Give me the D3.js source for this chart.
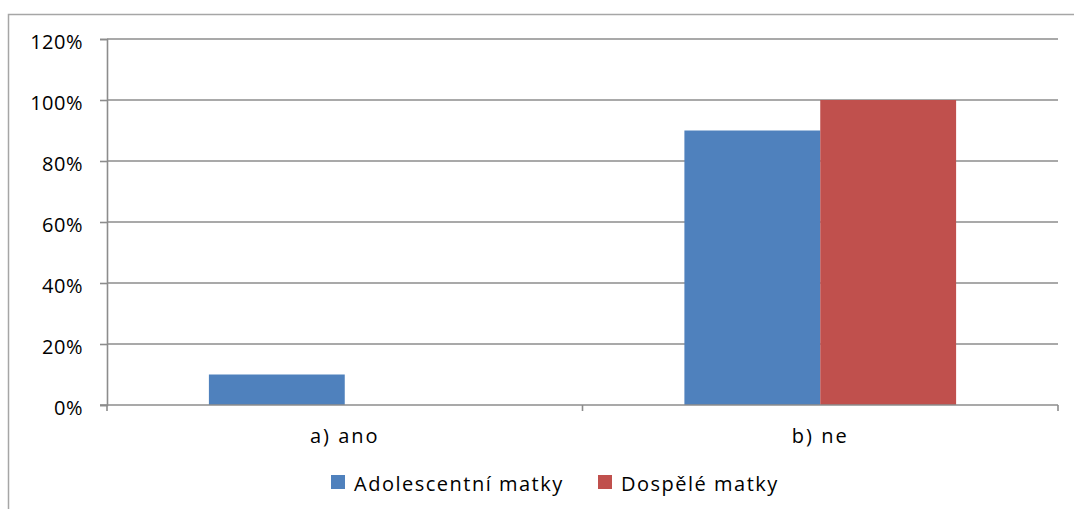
<!DOCTYPE html>
<html>
<head>
<meta charset="utf-8">
<script src="https://cdn.jsdelivr.net/npm/d3@7"></script>
<style>
  body { margin: 0; background: #fff; }
  text { font-family: "Open Sans", sans-serif; fill: #000; }
</style>
</head>
<body>
<div id="chart"></div>
<script>
const categories = ["a) ano", "b) ne"];
const seriesNames = ["Adolescentní matky", "Dospělé matky"];
const adolescentni = [0.10, 0.90];
const dospele = [0.0, 1.0];
const yTicks = [0, 0.2, 0.4, 0.6, 0.8, 1.0, 1.2];
const colors = ["#4f81bd", "#c0504d"];

const W = 1074, H = 509;
const margin = {top: 39, right: 16, bottom: 104, left: 107};
const width = W - margin.left - margin.right,
      height = H - margin.top - margin.bottom;

const svg = d3.select("#chart").append("svg")
    .attr("width", W).attr("height", H);

// outer frame (clipped by window on right/bottom)
svg.append("rect")
    .attr("x", 8.5).attr("y", 14.5)
    .attr("width", W).attr("height", H)
    .attr("fill", "none").attr("stroke", "#a6a6a6").attr("stroke-width", 1.5);

const g = svg.append("g").attr("transform", `translate(${margin.left},${margin.top})`);

const x0 = d3.scaleBand().domain(categories).range([0, width]).paddingInner(0).paddingOuter(0);
const x1 = d3.scaleBand().domain(seriesNames).range([0, x0.bandwidth()]).paddingInner(0).paddingOuter(0.75);
const y = d3.scaleLinear().domain([0, 1.2]).range([height, 0]);

// gridlines
g.append("g").selectAll("line").data(yTicks.filter(d => d > 0)).join("line")
    .attr("x1", 0).attr("x2", width)
    .attr("y1", d => y(d)).attr("y2", d => y(d))
    .attr("stroke", "#8c8c8c").attr("stroke-width", 1.6);

// y axis
const yAxis = g.append("g")
    .call(d3.axisLeft(y).tickValues(yTicks).tickFormat(d3.format(".0%")).tickSize(7).tickPadding(17));
yAxis.select(".domain").attr("stroke", "#8c8c8c").attr("stroke-width", 1.6);
yAxis.selectAll(".tick line").attr("stroke", "#8c8c8c").attr("stroke-width", 1.6);
yAxis.selectAll("text")
    .style("font-size", "20px").style("letter-spacing", "0.5px")
    .attr("font-family", "Open Sans").attr("dy", "0.45em");

// bars
const data = categories.map((c, i) => ({cat: c, vals: [adolescentni[i], dospele[i]]}));
const groups = g.selectAll(".grp").data(data).join("g")
    .attr("transform", d => `translate(${x0(d.cat)},0)`);
groups.selectAll("rect").data(d => d.vals.map((v, j) => ({s: seriesNames[j], v, j}))).join("rect")
    .attr("x", d => x1(d.s))
    .attr("width", x1.bandwidth())
    .attr("y", d => y(d.v))
    .attr("height", d => height - y(d.v))
    .attr("fill", d => colors[d.j]);

// x axis
const xAxis = g.append("g").attr("transform", `translate(0,${height})`)
    .call(d3.axisBottom(x0).tickSize(0).tickPadding(20));
xAxis.select(".domain").remove();
xAxis.selectAll("text")
    .style("font-size", "20px").style("letter-spacing", "2px")
    .attr("font-family", "Open Sans").attr("dy", "0.9em");
g.append("line").attr("x1", -7).attr("x2", width).attr("y1", height).attr("y2", height)
    .attr("stroke", "#8c8c8c").attr("stroke-width", 1.6);
const bounds = [0, ...categories.map(c => x0(c) + x0.bandwidth())];
g.append("g").selectAll("line").data(bounds).join("line")
    .attr("x1", d => d).attr("x2", d => d)
    .attr("y1", height).attr("y2", height + 6)
    .attr("stroke", "#8c8c8c").attr("stroke-width", 1.6);

// legend
const legend = svg.append("g").attr("transform", "translate(331,475)");
const items = [{n: seriesNames[0], c: colors[0], x: 0}, {n: seriesNames[1], c: colors[1], x: 267}];
const li = legend.selectAll("g").data(items).join("g").attr("transform", d => `translate(${d.x},0)`);
li.append("rect").attr("width", 14).attr("height", 14).attr("fill", d => d.c);
li.append("text").attr("x", 23).attr("y", 16)
    .style("font-size", "20px").style("letter-spacing", "1.5px")
    .text(d => d.n);
</script>
</body>
</html>
